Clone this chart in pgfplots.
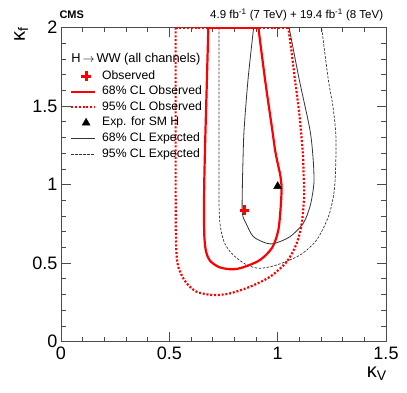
\documentclass[border=0pt]{standalone}
\usepackage{fontspec}
\setmainfont{Liberation Sans}
\usepackage{pgfplots}
\pgfplotsset{compat=1.18}
\begin{document}
\begin{tikzpicture}
\begin{axis}[
  at={(61pt,51.3pt)}, anchor=south west,
  scale only axis, width=325pt, height=314pt,
  xmin=0, xmax=1.5, ymin=0, ymax=2,
  xtick={0,0.5,1,1.5}, ytick={0,0.5,1,1.5,2},
  minor x tick num=4, minor y tick num=4,
  tick align=inside,
  major tick length=9.5pt, minor tick length=4.7pt,
  axis line style={black!70, line width=0.8pt},
  tick style={black!70, line width=0.8pt},
  /pgf/number format/assume math mode=true,
  ticklabel style={font=\fontsize{18}{20}\selectfont},
  xticklabel style={inner sep=0pt, yshift=-5.3pt},
  yticklabel style={inner sep=0pt, xshift=-3.5pt},
  xlabel={κ\textsubscript{V}}, ylabel={κ\textsubscript{f}},
  label style={font=\fontsize{20}{22}\selectfont, inner sep=0pt},
  xlabel style={at={(axis description cs:1.003,-0.0796)}, anchor=north east},
  ylabel style={at={(axis description cs:-0.1006,1.003)}, anchor=south east},
  clip=false,
  legend style={draw=none, fill=none, inner sep=0pt, outer sep=0pt,
    at={(axis description cs:0.0277,0.8637)}, anchor=north west,
    font=\fontsize{12.2}{14}\selectfont, row sep=4.5pt, column sep=6pt,
    nodes={inner sep=0pt, text height=8.6pt, text depth=2.5pt, font=\fontsize{12.2}{14}\selectfont}},
  legend cell align=left,
  legend image code/.code={\draw[mark repeat=2,mark phase=2,#1] plot coordinates {(0pt,0pt)(15pt,0pt)(24pt,0pt)};},
]
% 95% CL expected
\addplot[black!80, line width=0.7pt, dash pattern=on 2.5pt off 1.5pt, smooth, forget plot] coordinates {
(0.729,2.0)(0.729,1.5)(0.729,1.0)(0.731,0.80)(0.740,0.70)(0.758,0.62)(0.795,0.552)(0.857,0.489)(0.918,0.468)(0.996,0.489)(1.103,0.552)(1.180,0.648)(1.234,0.796)(1.257,0.924)(1.266,1.05)(1.269,1.30)(1.255,1.50)(1.234,1.667)(1.203,2.0)};
% 68% CL expected
\addplot[black!80, line width=0.8pt, smooth, forget plot] coordinates {
(0.889,2.0)(0.863,1.667)(0.845,1.349)(0.840,1.157)(0.837,0.98)(0.837,0.818)(0.854,0.754)(0.888,0.669)(0.949,0.627)(0.988,0.627)(1.057,0.669)(1.118,0.754)(1.149,0.860)(1.164,0.966)(1.168,1.019)(1.164,1.157)(1.149,1.349)(1.100,1.667)(1.053,2.0)};
% 95% CL observed
\addplot[red, line width=2.2pt, dash pattern=on 2pt off 1.8pt, smooth, forget plot] coordinates {
(0.529,2.0)(0.529,1.5)(0.529,1.0)(0.530,0.70)(0.533,0.56)(0.541,0.478)(0.558,0.42)(0.580,0.372)(0.626,0.318)(0.703,0.297)(0.780,0.308)(0.872,0.350)(0.965,0.414)(1.042,0.510)(1.088,0.627)(1.111,0.754)(1.122,0.924)(1.120,1.05)(1.116,1.2)(1.100,1.45)(1.080,1.667)(1.062,1.87)(1.049,2.0)};
\addplot[red, line width=2.2pt, dash pattern=on 2pt off 1.8pt, forget plot] coordinates {(0.529,2.0)(1.049,2.0)};
% 68% CL observed
\addplot[red, line width=2.2pt, smooth, forget plot] coordinates {
(0.680,2.0)(0.675,1.75)(0.670,1.50)(0.665,1.25)(0.661,1.00)(0.660,0.80)(0.662,0.66)(0.670,0.570)(0.688,0.515)(0.730,0.475)(0.788,0.461)(0.841,0.474)(0.918,0.520)(0.975,0.600)(1.003,0.711)(1.014,0.860)(1.018,0.98)(1.012,1.06)(0.998,1.15)(0.988,1.221)(0.975,1.349)(0.942,1.667)(0.911,2.0)};
\addplot[red, line width=2.2pt, forget plot] coordinates {(0.680,2.0)(0.911,2.0)};
% markers
\addplot[only marks, mark=triangle*, black, mark size=4.6pt, forget plot] coordinates {(1.0,0.99)};
\addplot[only marks, mark=+, red, mark size=4.8pt, mark options={line width=3pt}, forget plot] coordinates {(0.846,0.838)};
% legend
\addlegendimage{only marks, mark=+, red, mark size=4.8pt, mark options={line width=3pt}}
\addlegendentry{Observed}
\addlegendimage{red, line width=2.2pt}
\addlegendentry{68\% CL Observed}
\addlegendimage{red, line width=2.2pt, dash pattern=on 2pt off 1.8pt}
\addlegendentry{95\% CL Observed}
\addlegendimage{only marks, mark=triangle*, black, mark size=4.6pt}
\addlegendentry{Exp. for SM H}
\addlegendimage{black!80, line width=0.8pt}
\addlegendentry{68\% CL Expected}
\addlegendimage{black!80, line width=0.7pt, dash pattern=on 2.5pt off 1.5pt}
\addlegendentry{95\% CL Expected}
\node[anchor=base west, font=\fontsize{12.8}{14}\selectfont, inner sep=0pt] at (axis description cs:0.0310,0.8898) {H\hspace{2pt}$\rightarrow$\hspace{2pt}WW (all channels)};
\node[anchor=base west, font=\bfseries\fontsize{11}{13}\selectfont, inner sep=0pt] at (axis description cs:-0.0052,1.0293) {CMS};
\node[anchor=base east, font=\fontsize{11.5}{13}\selectfont, inner sep=0pt] at (axis description cs:0.9917,1.0293) {4.9 fb\textsuperscript{-1} (7 TeV) + 19.4 fb\textsuperscript{-1} (8 TeV)};
\end{axis}
\pgfresetboundingbox
\path[use as bounding box] (0,0) rectangle (407pt,393pt);
\end{tikzpicture}
\end{document}
